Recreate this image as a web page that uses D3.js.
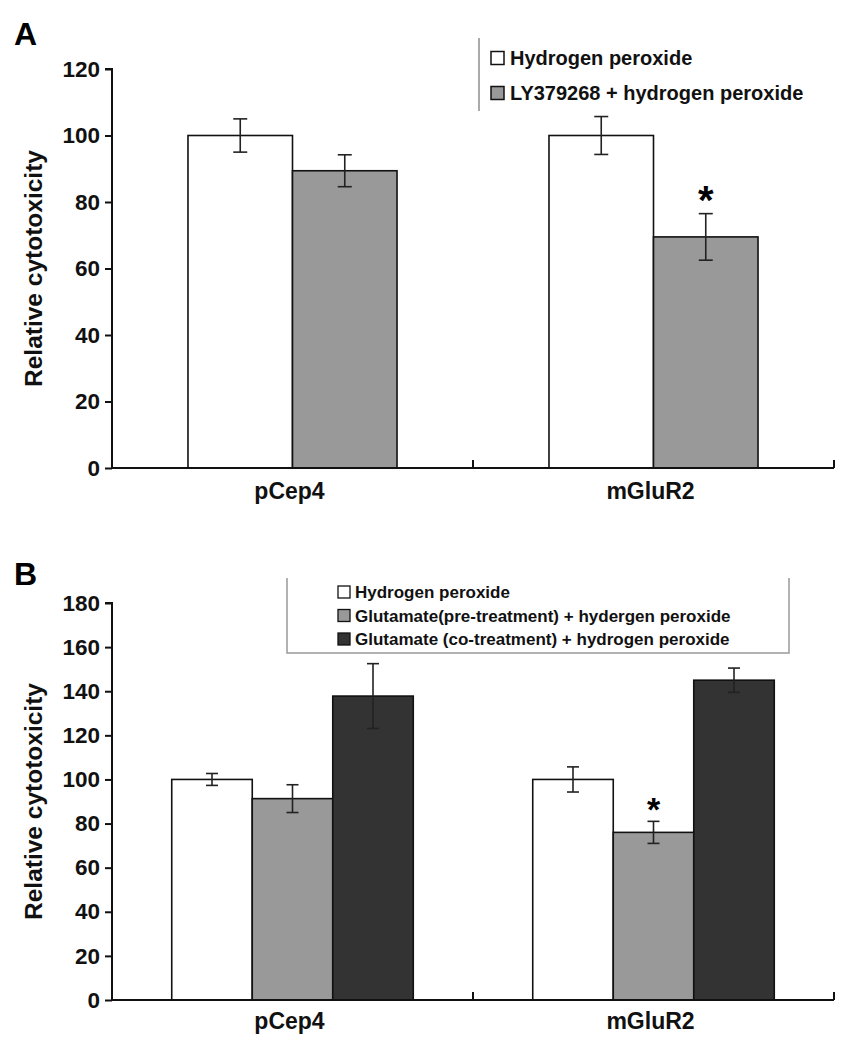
<!DOCTYPE html>
<html>
<head>
<meta charset="utf-8">
<script src="https://cdn.jsdelivr.net/npm/d3@7"></script>
<style>
  html, body { margin: 0; padding: 0; background: #fff; }
  svg { display: block; font-family: "Liberation Sans", Arial, Helvetica, sans-serif; }
</style>
</head>
<body>
<svg id="chart" width="841" height="1050"></svg>
<script>
// ---------- Data ----------
const categories = ["pCep4", "mGluR2"];

// Panel A
const seriesA = ["Hydrogen peroxide", "LY379268 + hydrogen peroxide"];
const valuesA = [[100, 89.4], [100, 69.5]];          // [category][series]
const errorsA = [[5, 4.8], [5.7, 7]];
const sigA = [[false, false], [false, true]];
const ticksA = [0, 20, 40, 60, 80, 100, 120];

// Panel B
const seriesB = ["Hydrogen peroxide", "Glutamate(pre-treatment) + hydergen peroxide", "Glutamate (co-treatment) + hydrogen peroxide"];
const valuesB = [[100, 91.3, 137.8], [100, 76, 145]];
const errorsB = [[2.7, 6.3, 14.7], [5.7, 5, 5.5]];
const sigB = [[false, false, false], [false, true, false]];
const ticksB = [0, 20, 40, 60, 80, 100, 120, 140, 160, 180];

const fillsA = ["#ffffff", "#999999"];
const fillsB = ["#ffffff", "#999999", "#333333"];

const svg = d3.select("#chart");

function panel(opts) {
  const g = svg.append("g");
  const x = d3.scaleBand().domain(categories).range([112, 834]).paddingInner(0).paddingOuter(0);
  const xs = d3.scaleBand().domain(opts.series).range([0, x.bandwidth()]).paddingInner(0).paddingOuter(opts.outerPad);
  const y = d3.scaleLinear().domain([0, opts.ymax]).range([opts.y0, opts.ytop]);

  // Bars
  categories.forEach((c, ci) => {
    opts.series.forEach((s, si) => {
      const v = opts.values[ci][si];
      const bx = x(c) + xs(s);
      g.append("rect")
        .attr("x", bx).attr("y", y(v))
        .attr("width", xs.bandwidth()).attr("height", y(0) - y(v))
        .attr("fill", opts.fills[si]).attr("stroke", "#111").attr("stroke-width", 1.6);
    });
  });
  // Error bars
  categories.forEach((c, ci) => {
    opts.series.forEach((s, si) => {
      const v = opts.values[ci][si], e = opts.errors[ci][si];
      const cx = x(c) + xs(s) + xs.bandwidth() / 2;
      const eg = g.append("g").attr("stroke", "#222").attr("stroke-width", 1.6);
      eg.append("line").attr("x1", cx).attr("x2", cx).attr("y1", y(v + e)).attr("y2", y(v - e));
      eg.append("line").attr("x1", cx - opts.cap).attr("x2", cx + opts.cap).attr("y1", y(v + e)).attr("y2", y(v + e));
      eg.append("line").attr("x1", cx - opts.cap).attr("x2", cx + opts.cap).attr("y1", y(v - e)).attr("y2", y(v - e));
      if (opts.sig[ci][si]) {
        g.append("text").attr("x", cx).attr("y", y(v + e) - opts.starGap)
          .attr("text-anchor", "middle").attr("font-size", opts.starSize).attr("font-weight", "bold")
          .text("*");
      }
    });
  });

  // Y axis
  const yAxis = d3.axisLeft(y).tickValues(opts.ticks).tickSize(7).tickPadding(5).tickFormat(d3.format("d"));
  const ya = g.append("g").attr("transform", "translate(112,0)").call(yAxis);
  ya.select(".domain").attr("stroke", "#111").attr("stroke-width", 2).attr("d", `M-7,${y(opts.ymax)}H0V${y(0)}`);
  ya.selectAll(".tick line").attr("stroke", "#111").attr("stroke-width", 2);
  ya.selectAll(".tick text").attr("font-size", 22.5).attr("font-weight", "bold").attr("fill", "#111")
    .attr("font-family", "'Liberation Sans', Arial, sans-serif");

  // X axis
  const xa = g.append("g").attr("transform", `translate(0,${y(0)})`);
  xa.append("line").attr("x1", 112).attr("x2", 834).attr("y1", 0).attr("y2", 0)
    .attr("stroke", "#111").attr("stroke-width", 2);
  const bounds = [x.range()[0] + x.bandwidth(), x.range()[1]];
  bounds.forEach(b => xa.append("line").attr("x1", b).attr("x2", b).attr("y1", 0).attr("y2", -8)
    .attr("stroke", "#111").attr("stroke-width", 2));
  categories.forEach(c => {
    xa.append("text").attr("x", x(c) + x.bandwidth() / 2 - 3).attr("y", opts.xlabelDy)
      .attr("text-anchor", "middle").attr("font-size", 23).attr("font-weight", "bold").attr("fill", "#111")
      .text(c);
  });

  // Y title
  g.append("text")
    .attr("transform", `translate(42,${(y(0) + y(opts.ymax)) / 2}) rotate(-90)`)
    .attr("text-anchor", "middle").attr("font-size", 24.5).attr("font-weight", "bold").attr("fill", "#111")
    .text("Relative cytotoxicity");

  // Panel letter
  g.append("text").attr("x", 14).attr("y", opts.letterY)
    .attr("font-size", 32).attr("font-weight", "bold").attr("fill", "#000").text(opts.letter);

  return { g, x, y };
}

// ---------- Panel A ----------
const A = panel({
  series: seriesA, values: valuesA, errors: errorsA, sig: sigA, fills: fillsA,
  ymax: 120, y0: 468, ytop: 69, ticks: ticksA, outerPad: 0.727, cap: 7,
  starGap: 0, starSize: 40, xlabelDy: 31, letter: "A", letterY: 45
});
// Legend A
{
  const lg = A.g.append("g");
  lg.append("line").attr("x1", 479).attr("x2", 479).attr("y1", 38).attr("y2", 111)
    .attr("stroke", "#aaa").attr("stroke-width", 2);
  const rowY = d3.scalePoint().domain(seriesA).range([58, 93]);
  seriesA.forEach((s, i) => {
    lg.append("rect").attr("x", 491).attr("y", rowY(s) - 6.5).attr("width", 13).attr("height", 13)
      .attr("fill", fillsA[i]).attr("stroke", "#111").attr("stroke-width", 1.5);
    lg.append("text").attr("x", 510).attr("y", rowY(s) + 7).attr("font-size", 20).attr("font-weight", "bold")
      .attr("fill", "#111").text(s);
  });
}

// ---------- Panel B ----------
const B = panel({
  series: seriesB, values: valuesB, errors: errorsB, sig: sigB, fills: fillsB,
  ymax: 180, y0: 1000, ytop: 603, ticks: ticksB, outerPad: 0.742, cap: 6,
  starGap: 0, starSize: 34, xlabelDy: 29, letter: "B", letterY: 585
});
// Legend B
{
  const lg = B.g.append("g");
  lg.append("path").attr("d", "M287,578V653H789V578").attr("fill", "none")
    .attr("stroke", "#999").attr("stroke-width", 1.5);
  const rowY = d3.scalePoint().domain(seriesB).range([592, 639]);
  seriesB.forEach((s, i) => {
    lg.append("rect").attr("x", 338).attr("y", rowY(s) - 6).attr("width", 12).attr("height", 12)
      .attr("fill", fillsB[i]).attr("stroke", "#111").attr("stroke-width", 1.3);
    lg.append("text").attr("x", 355).attr("y", rowY(s) + 6).attr("font-size", 17).attr("font-weight", "bold")
      .attr("fill", "#111").text(s);
  });
}
</script>
</body>
</html>
